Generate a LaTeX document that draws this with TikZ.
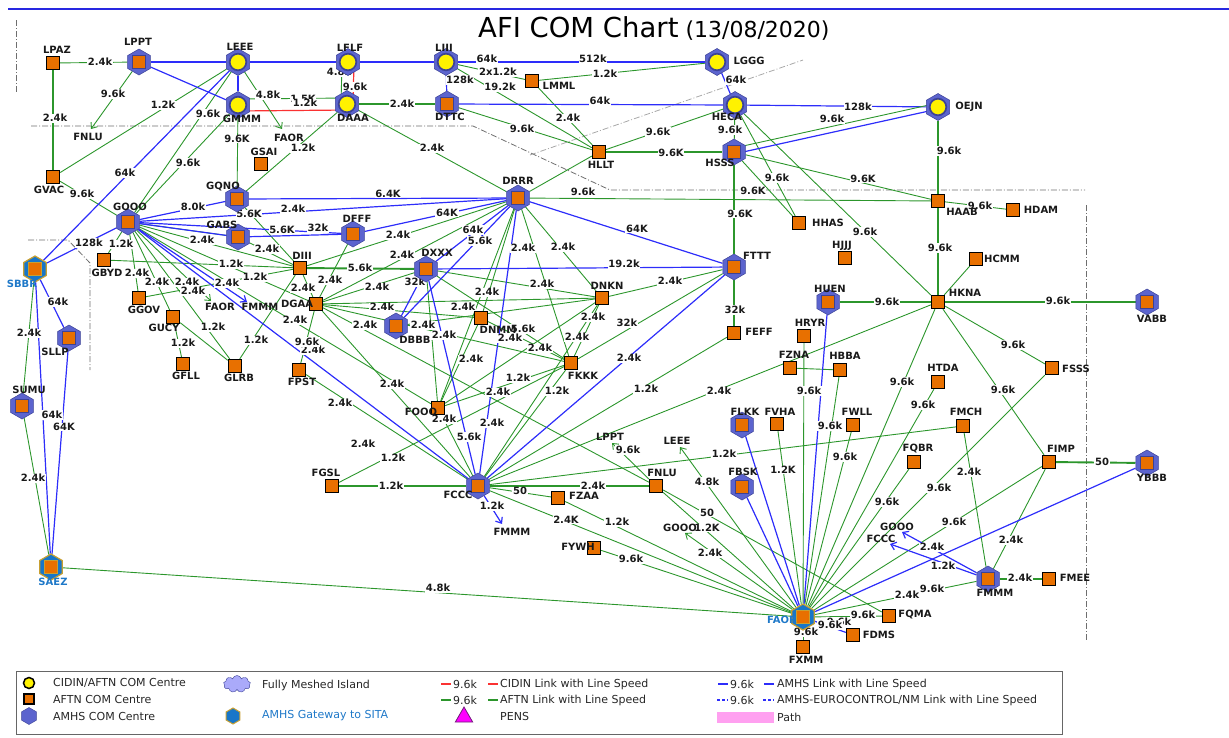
\documentclass[tikz,border=0pt]{standalone}
\usepackage{fontspec}
\setmainfont{DejaVu Sans}
\usetikzlibrary{shapes.geometric,shapes.symbols,arrows.meta,backgrounds}
\definecolor{afor}{RGB}{232,112,0}
\definecolor{hexb}{RGB}{92,100,206}
\definecolor{hexd}{RGB}{60,66,150}
\definecolor{gwb}{RGB}{24,118,200}
\definecolor{gold}{RGB}{200,160,50}
\definecolor{lg}{RGB}{44,150,44}
\definecolor{lbl}{RGB}{45,45,250}
\definecolor{lr}{RGB}{250,50,50}
\definecolor{gwt}{RGB}{30,120,200}
\definecolor{bnd}{RGB}{110,110,110}
\definecolor{lav}{RGB}{170,170,250}
\definecolor{pathpink}{RGB}{255,160,240}
\definecolor{pens}{RGB}{255,0,255}
\definecolor{pensd}{RGB}{110,30,120}
\tikzset{
 aftn/.style={draw=black,line width=1.3pt,fill=afor,minimum size=13pt,inner sep=0pt},
 hexbase/.style={regular polygon,regular polygon sides=6,shape border rotate=30,minimum size=26pt,inner sep=0pt},
 amhs/.style={hexbase,fill=hexb,draw=hexd,line width=0.5pt,path picture={\draw[line width=1.3pt,fill=afor] ([shift={(-6.5pt,-6.5pt)}]path picture bounding box.center) rectangle ([shift={(6.5pt,6.5pt)}]path picture bounding box.center);}},
 cidin/.style={hexbase,minimum size=27pt,fill=hexb,draw=hexd,line width=0.5pt,path picture={\draw[line width=1.7pt,fill=yellow] (path picture bounding box.center) circle[radius=8.3pt];}},
 gway/.style={hexbase,fill=gwb,draw=gold,line width=1.2pt,path picture={\draw[line width=1.3pt,fill=afor] ([shift={(-6.5pt,-6.5pt)}]path picture bounding box.center) rectangle ([shift={(6.5pt,6.5pt)}]path picture bounding box.center);}},
 nm/.style={font=\fontsize{10}{11}\selectfont\bfseries,inner sep=0pt,text=black!90},
 lblx/.style={font=\fontsize{10}{11}\selectfont\bfseries,fill=white,inner sep=0.7pt,text=black!90},
 gl/.style={draw=lg,line width=0.9pt},
 gm/.style={draw=lg,line width=1.4pt},
 gt/.style={draw=lg,line width=1.9pt},
 bl/.style={draw=lbl,line width=1.2pt},
 rl/.style={draw=lr,line width=1.2pt},
 arr/.style={-{Straight Barb[length=5pt,width=8pt]}},
 bd/.style={draw=bnd,line width=0.8pt,dash pattern=on 6pt off 2pt on 1pt off 2pt},
 lt/.style={font=\fontsize{11}{13}\selectfont,anchor=west,inner sep=0pt,text=black!85},
}
\newcommand\mkAF[3]{\node[aftn] (#1) at (#2) {}; \node[nm] (#1-t) at (#3) {#1};}
\newcommand\mkAM[3]{\node[amhs] (#1) at (#2) {}; \node[nm] (#1-t) at (#3) {#1};}
\newcommand\mkCI[3]{\node[cidin] (#1) at (#2) {}; \node[nm] (#1-t) at (#3) {#1};}
\newcommand\mkGW[3]{\node[gway] (#1) at (#2) {}; \node[nm,text=gwt] (#1-t) at (#3) {#1};}
\newcommand\ed[3]{\draw[#1] (#2) -- (#3);}
\newcounter{labc}
\newcommand\lab[2]{\stepcounter{labc}\node[lblx] (lab\arabic{labc}) at (#1) {#2};}
\begin{document}
\begin{tikzpicture}[x=1pt,y=-1pt]
\useasboundingbox (0,0) rectangle (1229,737);
% title and top rule
\draw[draw=lbl!90!black,line width=2.5pt] (8,9) -- (1229,9);
\node[anchor=base west,inner sep=0pt] (title) at (478,37) {\fontsize{27.5}{30}\selectfont AFI COM Chart\fontsize{22}{24}\selectfont\ (13/08/2020)};
% CIDIN
\mkCI{LEEE}{238,62}{240,47}
\mkCI{LFLF}{348,62}{350,48}
\mkCI{LIII}{446,62}{444,48}
\mkCI{LGGG}{717,62}{749,61}
\mkCI{GMMM}{238,105}{242,119}
\mkCI{DAAA}{347,104}{353,118}
\mkCI{HECA}{735,105}{727,117}
\mkCI{OEJN}{938,107}{969,107}
% AFTN
\mkAF{LPAZ}{53,63}{57,50}
\mkAF{GVAC}{53,177}{49,190}
\mkAF{GSAI}{261,164}{264,152}
\mkAF{LMML}{532,81}{559,86}
\mkAF{HLLT}{599,152}{601,165}
\mkAF{HAAB}{938,201}{962,212}
\mkAF{HDAM}{1013,210}{1041,210}
\mkAF{HHAS}{799,223}{828,223}
\mkAF{HJJJ}{845,258}{842,246}
\mkAF{GBYD}{104,260}{107,273}
\mkAF{DIII}{300,268}{302,256}
\mkAF{HCMM}{976,259}{1002,259}
\mkAF{GGOV}{139,298}{144,310}
\mkAF{DGAA}{316,304}{297,304}
\mkAF{DNKN}{602,298}{607,286}
\mkAF{HKNA}{938,302}{965,293}
\mkAF{GUCY}{173,317}{164,328}
\mkAF{DNMM}{481,318}{498,330}
\mkAF{FEFF}{734,333}{759,332}
\mkAF{HRYR}{804,336}{810,323}
\mkAF{FZNA}{790,368}{794,355}
\mkAF{HBBA}{840,370}{845,356}
\mkAF{FKKK}{571,363}{583,376}
\mkAF{FSSS}{1052,368}{1076,369}
\mkAF{GFLL}{183,364}{186,376}
\mkAF{GLRB}{235,366}{239,378}
\mkAF{FPST}{299,370}{302,382}
\mkAF{HTDA}{938,382}{943,368}
\mkAF{FOOO}{438,408}{421,412}
\mkAF{FVHA}{777,424}{780,412}
\mkAF{FWLL}{853,425}{857,412}
\mkAF{FMCH}{963,426}{966,412}
\mkAF{FQBR}{914,462}{918,449}
\mkAF{FIMP}{1049,462}{1061,449}
\mkAF{FGSL}{332,486}{326,473}
\mkAF{FNLU}{656,486}{662,473}
\mkAF{FZAA}{558,498}{584,496}
\mkAF{FYWH}{594,548}{578,547}
\mkAF{FMEE}{1049,579}{1075,578}
\mkAF{FQMA}{889,616}{915,615}
\mkAF{FDMS}{853,635}{879,635}
\mkAF{FXMM}{803,647}{806,660}
% AMHS
\mkAM{LPPT}{139,62}{138,42}
\mkAM{DTTC}{447,104}{450,117}
\mkAM{HSSS}{734,152}{720,163}
\mkAM{GQNO}{237,199}{223,187}
\mkAM{DRRR}{518,198}{518,181}
\mkAM{GOOO}{128,222}{130,207}
\mkAM{GABS}{238,237}{222,225}
\mkAM{DFFF}{353,234}{357,219}
\mkAM{DXXX}{426,269}{437,253}
\mkAM{FTTT}{734,267}{757,256}
\mkAM{HUEN}{828,302}{830,289}
\mkAM{VABB}{1147,302}{1152,319}
\mkAM{DBBB}{396,326}{415,340}
\mkAM{SLLP}{69,338}{55,352}
\mkAM{SUMU}{22,406}{29,390}
\mkAM{FLKK}{742,425}{745,412}
\mkAM{FBSK}{742,487}{743,472}
\mkAM{FCCC}{478,486}{458,495}
\mkAM{YBBB}{1147,463}{1152,478}
\mkAM{FMMM}{988,579}{995,593}
% gateways
\mkGW{SBBR}{35,269}{22,284}
\mkGW{SAEZ}{51,567}{53,582}
\mkGW{FAOR}{803,617}{782,620}
% stub texts
\node[nm] (sFNLU) at (88,137) {FNLU};
\node[nm] (sFAOR1) at (289,138) {FAOR};
\node[nm] (sFAOR2) at (220,307) {FAOR};
\node[nm] (sFMMM2) at (260,307) {FMMM};
\node[nm] (sFMMM1) at (512,532) {FMMM};
\node[nm] (sLPPT) at (610,437) {LPPT};
\node[nm] (sLEEE) at (677,441) {LEEE};
\node[nm] (sGOOO1) at (680,528) {GOOO};
\node[nm] (sGOOO2) at (897,527) {GOOO};
\node[nm] (sFCCC2) at (881,539) {FCCC};
\coordinate (aFNLU) at (91,129);
\coordinate (aFAOR1) at (282,129);
\coordinate (aFAOR2) at (211,301);
\coordinate (aFMMM2) at (247,302);
\coordinate (aFMMM1) at (502,524);
\coordinate (aLPPT) at (612,443);
\coordinate (aLEEE) at (680,447);
\coordinate (aGOOO1) at (685,533);
\coordinate (aGOOO2) at (902,532);
\coordinate (aFCCC2) at (890,544);
% legend
\draw[draw=black!60,line width=0.8pt] (16,671) rectangle (1062,734);
\node[draw=black,line width=1.5pt,fill=yellow,circle,minimum size=11pt,inner sep=0pt] (kCI) at (29,683) {};
\node[aftn,minimum size=10pt,line width=1.2pt] (kAF) at (29,699) {};
\node[hexbase,fill=hexb,draw=hexd,minimum size=17pt] (kAM) at (29,716) {};
\node[cloud,cloud puffs=9,aspect=1.6,draw=hexd,fill=lav,minimum width=27pt,minimum height=17pt,inner sep=0pt] (kCL) at (237,684) {};
\node[hexbase,fill=gwb,draw=gold,line width=1pt,minimum size=16pt] (kGW) at (233,716) {};
\node[regular polygon,regular polygon sides=3,fill=pens,draw=pensd,line width=0.8pt,minimum size=20pt,inner sep=0pt] (kPE) at (464,717) {};
\node[lt] (t1) at (53,683) {CIDIN/AFTN COM Centre};
\node[lt] (t2) at (53,699) {AFTN COM Centre};
\node[lt] (t3) at (53,716) {AMHS COM Centre};
\node[lt] (t4) at (262,685) {Fully Meshed Island};
\node[lt,text=gwt] (t5) at (262,716) {AMHS Gateway to SITA};
\draw[rl] (441,684) -- (451,684); \node[lt] (t6) at (453,684) {9.6k};
\draw[rl] (488,684) -- (498,684); \node[lt] (t7) at (500,684) {CIDIN Link with Line Speed};
\draw[gl,line width=1.2pt] (441,700) -- (451,700); \node[lt] (t8) at (453,700) {9.6k};
\draw[gl,line width=1.2pt] (488,700) -- (498,700); \node[lt] (t9) at (500,700) {AFTN Link with Line Speed};
\node[lt] (t10) at (500,716) {PENS};
\draw[bl] (718,684) -- (728,684); \node[lt] (t11) at (730,684) {9.6k};
\draw[bl] (764,684) -- (774,684); \node[lt] (t12) at (777,684) {AMHS Link with Line Speed};
\draw[bl,dash pattern=on 3pt off 2pt] (717,700) -- (728,700); \node[lt] (t13) at (730,700) {9.6k};
\draw[bl,dash pattern=on 3pt off 2pt] (763,700) -- (774,700); \node[lt] (t14) at (777,700) {AMHS-EUROCONTROL/NM Link with Line Speed};
\fill[pathpink] (717,712) rectangle (774,723);
\node[lt] (t15) at (777,717) {Path};
\begin{pgfonlayer}{background}
% region boundaries
\draw[bd] (16,20) -- (16,92);
\draw[bd] (31,126) -- (473,126) -- (610,190) -- (1085,190);
\draw[bd] (1086,205) -- (1086,640);
\draw[bd,draw=bnd!60] (530,155) -- (803,60);
\draw[bd] (28,240) -- (68,240) -- (90,263) -- (90,370);
% thin green
\ed{gl}{LPAZ}{LPPT}\ed{gl}{LEEE}{GVAC}\ed{gl}{LEEE}{GOOO}\ed{gl}{GMMM}{GOOO}
\ed{gl}{LIII}{LMML}\ed{gl}{LIII}{HLLT}\ed{gl}{LMML}{LGGG}\ed{gl}{LMML}{HLLT}
\ed{gl}{DTTC}{HLLT}\ed{gl}{DAAA}{DRRR}\ed{gl}{DAAA}{GQNO}\ed{gl}{GMMM}{GQNO}
\ed{gl}{HECA}{HLLT}\ed{gl}{HECA}{HSSS}\ed{gl}{HLLT}{DRRR}\ed{gl}{HECA}{HHAS}
\ed{gl}{HSSS}{HHAS}\ed{gl}{HECA}{HKNA}\ed{gl}{HSSS}{HAAB}\ed{gl}{DRRR}{HAAB}
\ed{gl}{HAAB}{HDAM}\ed{gl}{HKNA}{HCMM}\ed{gl}{HKNA}{FSSS}\ed{gl}{HKNA}{FIMP}
\ed{gl}{HKNA}{FCCC}\ed{gl}{HKNA}{FAOR}\ed{gl}{HTDA}{FAOR}\ed{gl}{FMCH}{FCCC}
\ed{gl}{FMCH}{FMMM}\ed{gl}{FSSS}{FAOR}\ed{gl}{FIMP}{FAOR}\ed{gl}{FIMP}{FMMM}
\ed{gl}{FMMM}{FAOR}\ed{gl}{FQBR}{FAOR}\ed{gl}{FWLL}{FAOR}\ed{gl}{HBBA}{FAOR}
\ed{gl}{HRYR}{FAOR}\ed{gl}{FZNA}{HBBA}\ed{gl}{FVHA}{FAOR}\ed{gl}{FNLU}{FQMA}
\ed{gl}{FNLU}{FAOR}\ed{gl}{FCCC}{FZAA}\ed{gl}{FCCC}{FAOR}\ed{gl}{FZAA}{FAOR}
\ed{gl}{FYWH}{FAOR}\ed{gl}{SAEZ}{FAOR}\ed{gl}{FAOR}{FQMA}\ed{gl}{FAOR}{FXMM}
\ed{gl}{FEFF}{FCCC}\ed{gl}{FTTT}{DNKN}\ed{gl}{FTTT}{FKKK}\ed{gl}{DNKN}{FKKK}
\ed{gl}{DNKN}{FCCC}\ed{gl}{DNKN}{FOOO}\ed{gl}{DNKN}{DXXX}\ed{gl}{DNKN}{DGAA}
\ed{gl}{DNKN}{DRRR}\ed{gl}{DBBB}{DNKN}\ed{gl}{DNMM}{DGAA}\ed{gl}{DNMM}{DRRR}
\ed{gl}{DNMM}{FKKK}\ed{gl}{DNMM}{FOOO}\ed{gl}{DXXX}{FKKK}\ed{gl}{DXXX}{FOOO}
\ed{gl}{DXXX}{DGAA}\ed{gl}{FOOO}{FKKK}\ed{gl}{FOOO}{FCCC}\ed{gl}{FKKK}{FCCC}
\ed{gl}{FGSL}{FKKK}\ed{gl}{DGAA}{FNLU}\ed{gl}{DGAA}{FCCC}\ed{gl}{DGAA}{FPST}
\ed{gl}{DGAA}{DFFF}\ed{gl}{DGAA}{DIII}\ed{gl}{DGAA}{DRRR}\ed{gl}{DGAA}{GOOO}
\ed{gl}{DGAA}{FKKK}\ed{gl}{FPST}{FCCC}\ed{gl}{DRRR}{DIII}\ed{gl}{DRRR}{FKKK}
\ed{gl}{DRRR}{FOOO}\ed{gl}{DIII}{GQNO}\ed{gl}{DIII}{GABS}\ed{gl}{DIII}{GBYD}
\ed{gl}{DIII}{GGOV}\ed{gl}{DIII}{GLRB}\ed{gl}{DIII}{GOOO}\ed{gl}{GOOO}{GVAC}
\ed{gl}{GOOO}{GBYD}\ed{gl}{GOOO}{GGOV}\ed{gl}{GOOO}{GUCY}\ed{gl}{GOOO}{GLRB}
\ed{gl}{GOOO}{GABS}\ed{gl}{GOOO}{FOOO}\ed{gl}{GUCY}{GFLL}\ed{gl}{GUCY}{GLRB}
\ed{gl}{SBBR}{SUMU}\ed{gl}{SUMU}{SAEZ}
% thick green
\ed{gt}{LPAZ}{GVAC}\ed{gt}{DAAA}{DTTC}\ed{gt}{HLLT}{HSSS}\ed{gt}{HSSS}{FTTT}
\ed{gt}{OEJN}{HAAB}\ed{gt}{HAAB}{HKNA}\ed{gt}{HKNA}{HUEN}\ed{gt}{HKNA}{VABB}
\ed{gt}{FIMP}{YBBB}\ed{gt}{DIII}{DXXX}\ed{gt}{FGSL}{FCCC}\ed{gt}{FCCC}{FNLU}
\ed{gm}{FTTT}{FEFF}\ed{gm}{FMMM}{FMEE}
% blue
\ed{bl}{LPPT}{LEEE}\ed{bl}{LPPT}{GMMM}\ed{bl}{LEEE}{LFLF}\ed{bl}{LFLF}{LIII}
\ed{bl}{LIII}{LGGG}\ed{bl}{LEEE}{GMMM}\ed{bl}{LEEE}{SBBR}\ed{bl}{LIII}{DTTC}
\ed{bl}{DTTC}{HECA}\ed{bl}{LGGG}{HECA}\ed{bl}{HECA}{OEJN}
\ed{bl}{GOOO}{SBBR}\ed{bl}{GOOO}{GQNO}\ed{bl}{GOOO}{DRRR}\ed{bl}{GOOO}{GABS}
\ed{bl}{GOOO}{DFFF}\ed{bl}{GOOO}{FCCC}\ed{bl}{GQNO}{DRRR}\ed{bl}{GABS}{DFFF}
\ed{bl}{DFFF}{DRRR}\ed{bl}{DRRR}{DXXX}\ed{bl}{DRRR}{DBBB}\ed{bl}{DRRR}{FCCC}
\ed{bl}{DRRR}{FTTT}\ed{bl}{DXXX}{FTTT}\ed{bl}{DXXX}{DBBB}\ed{bl}{DXXX}{FCCC}
\ed{bl}{FTTT}{FCCC}\ed{bl}{SBBR}{SLLP}\ed{bl}{SBBR}{SAEZ}\ed{bl}{SLLP}{SAEZ}
\ed{bl}{HUEN}{FAOR}\ed{bl}{FLKK}{FAOR}\ed{bl}{FBSK}{FAOR}\ed{bl}{YBBB}{FAOR}
\ed{bl}{FAOR}{FDMS}
% parallel links
\draw[gl] ([yshift=6pt]GMMM.center) -- ([yshift=6pt]DAAA.center);
\draw[rl] ([yshift=-6pt]GMMM.center) -- ([yshift=-6pt]DAAA.center);
\draw[gl] ([xshift=-6pt]LFLF.center) -- ([xshift=-6pt]DAAA.center);
\draw[rl] ([xshift=6pt]LFLF.center) -- ([xshift=6pt]DAAA.center);
\draw[gl] ([yshift=4pt]HSSS.center) -- ([yshift=4pt]OEJN.center);
\draw[bl] ([yshift=-2pt]HSSS.center) -- ([yshift=-2pt]OEJN.center);
% arrows to stubs
\draw[gl,arr] (LPPT) -- (aFNLU);
\draw[gl,arr] (LEEE) -- (aFAOR1);
\draw[gl,arr] (GOOO) -- (aFAOR2);
\draw[bl,arr] (GOOO) -- (aFMMM2);
\draw[bl,arr] (FCCC) -- (aFMMM1);
\draw[gl,arr] (FNLU) -- (aLPPT);
\draw[gl,arr] (FAOR) -- (aLEEE);
\draw[gl,arr] (FAOR) -- (aGOOO1);
\draw[bl,arr] (FMMM) -- (aGOOO2);
\draw[bl,arr] (FMMM) -- (aFCCC2);
% edge labels
\lab{100,62}{2.4k}\lab{113,94}{9.6k}\lab{163,105}{1.2k}\lab{55,118}{2.4k}
\lab{208,114}{9.6k}\lab{268,95}{4.8k}\lab{303,99}{1.5K}\lab{305,103}{1.2k}
\lab{237,139}{9.6K}\lab{303,148}{1.2k}\lab{188,163}{9.6k}\lab{125,173}{64k}
\lab{82,194}{9.6k}\lab{193,207}{8.0k}\lab{249,214}{5.6K}\lab{293,209}{2.4k}
\lab{282,230}{5.6K}\lab{318,228}{32k}\lab{202,240}{2.4k}\lab{89,243}{128k}
\lab{121,244}{1.2k}\lab{267,249}{2.4k}\lab{339,72}{4.8k}\lab{355,87}{9.6k}
\lab{402,104}{2.4k}\lab{487,59}{64k}\lab{593,59}{512k}\lab{498,72}{2x1.2k}
\lab{460,80}{128k}\lab{500,87}{19.2k}\lab{605,74}{1.2k}\lab{600,101}{64k}
\lab{568,118}{2.4k}\lab{522,129}{9.6k}\lab{432,148}{2.4k}\lab{388,194}{6.4K}
\lab{583,192}{9.6k}\lab{447,213}{64K}\lab{398,235}{2.4k}\lab{473,230}{64k}
\lab{480,241}{5.6k}\lab{523,248}{2.4k}\lab{563,247}{2.4k}\lab{736,80}{64k}
\lab{858,107}{128k}\lab{832,119}{9.6k}\lab{658,132}{9.6k}\lab{730,130}{9.6k}
\lab{671,153}{9.6K}\lab{777,178}{9.6k}\lab{863,179}{9.6K}\lab{753,191}{9.6K}
\lab{740,214}{9.6K}\lab{637,229}{64K}\lab{865,232}{9.6k}\lab{949,151}{9.6k}
\lab{980,206}{9.6k}\lab{940,248}{9.6k}\lab{231,264}{1.2k}\lab{137,273}{2.4k}
\lab{157,282}{2.4k}\lab{187,282}{2.4k}\lab{193,291}{2.4k}\lab{227,283}{2.4k}
\lab{255,277}{1.2k}\lab{303,288}{2.4k}\lab{295,320}{2.4k}\lab{213,327}{1.2k}
\lab{183,343}{1.2k}\lab{256,340}{1.2k}\lab{313,350}{2.4k}\lab{307,342}{9.6k}
\lab{58,302}{64k}\lab{29,333}{2.4k}\lab{52,415}{64k}\lab{64,427}{64K}
\lab{33,478}{2.4k}\lab{402,255}{2.4k}\lab{360,268}{5.6k}\lab{330,280}{2.4k}
\lab{377,287}{2.4k}\lab{415,282}{32k}\lab{487,292}{2.4k}\lab{542,284}{2.4k}
\lab{382,307}{2.4k}\lab{463,307}{2.4k}\lab{365,325}{2.4k}\lab{423,325}{2.4k}
\lab{444,335}{2.4k}\lab{523,329}{5.6k}\lab{510,338}{2.4k}\lab{540,348}{2.4k}
\lab{593,317}{2.4k}\lab{577,337}{2.4k}\lab{471,359}{2.4k}\lab{518,378}{1.2k}
\lab{392,384}{2.4k}\lab{498,392}{2.4k}\lab{557,391}{1.2k}\lab{340,403}{2.4k}
\lab{444,419}{2.4k}\lab{492,423}{2.4k}\lab{469,437}{5.6k}\lab{363,444}{2.4k}
\lab{393,458}{1.2k}\lab{624,264}{19.2k}\lab{670,281}{2.4k}\lab{627,323}{32k}
\lab{735,310}{32k}\lab{629,358}{2.4k}\lab{646,389}{1.2k}\lab{719,391}{2.4k}
\lab{809,391}{9.6k}\lab{902,382}{9.6k}\lab{830,426}{9.6k}\lab{845,457}{9.6k}
\lab{724,454}{1.2k}\lab{783,470}{1.2K}\lab{628,450}{9.6k}\lab{887,302}{9.6k}
\lab{1058,301}{9.6k}\lab{1013,345}{9.6k}\lab{1003,390}{9.6k}\lab{923,405}{9.6k}
\lab{969,472}{2.4k}\lab{1102,462}{50}\lab{391,486}{1.2k}\lab{520,491}{50}
\lab{593,486}{2.4k}\lab{566,520}{2.4K}\lab{492,506}{1.2k}\lab{438,588}{4.8k}
\lab{707,482}{4.8k}\lab{707,513}{50}\lab{617,522}{1.2k}\lab{707,528}{1.2K}
\lab{710,553}{2.4k}\lab{631,559}{9.6k}\lab{887,502}{9.6k}\lab{907,595}{2.4k}
\lab{863,615}{9.6k}\lab{839,622}{9.6k}\lab{830,625}{9.6k}\lab{806,632}{9.6k}
\lab{939,488}{9.6k}\lab{954,522}{9.6k}\lab{1011,540}{2.4k}\lab{932,547}{2.4k}
\lab{943,566}{1.2k}\lab{932,589}{9.6k}\lab{1020,578}{2.4k}
\end{pgfonlayer}
\end{tikzpicture}
\end{document}
